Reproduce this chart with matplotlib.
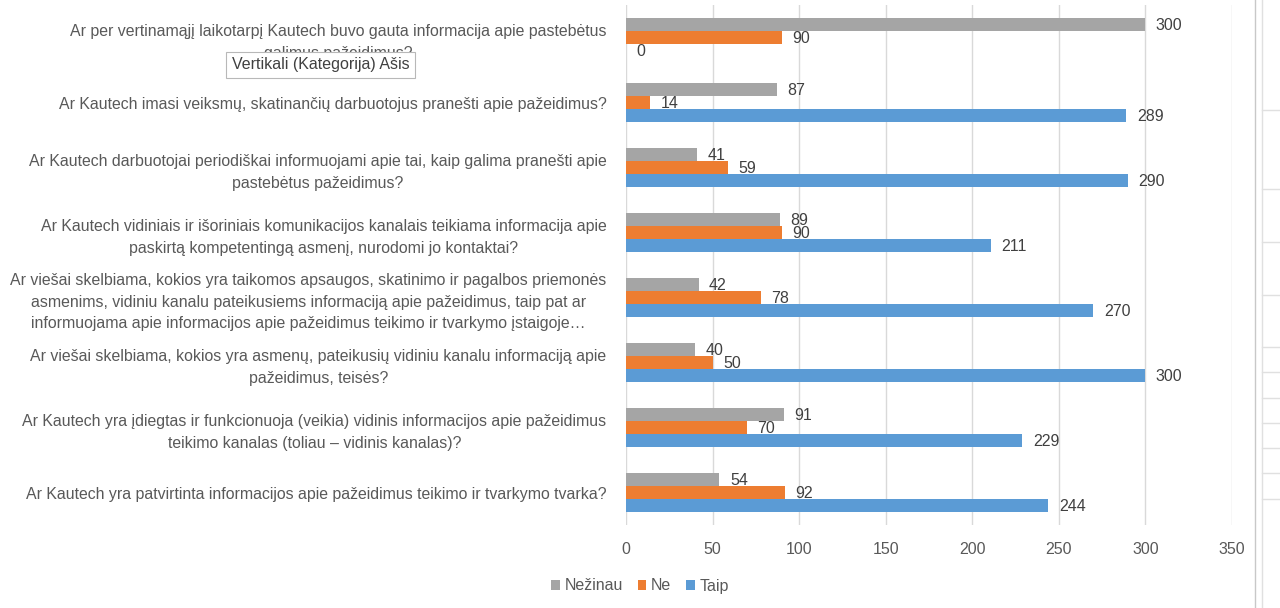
import matplotlib.pyplot as plt
from matplotlib.lines import Line2D
from matplotlib.patches import Patch
import numpy as np

plt.rcParams["font.family"] = ["Liberation Sans", "DejaVu Sans"]

CATEGORIES = [
    "Ar per vertinamąjį laikotarpį Kautech buvo gauta informacija apie pastebėtus\ngalimus pažeidimus?",
    "Ar Kautech imasi veiksmų, skatinančių darbuotojus pranešti apie pažeidimus?",
    "Ar Kautech darbuotojai periodiškai informuojami apie tai, kaip galima pranešti apie\npastebėtus pažeidimus?",
    "Ar Kautech vidiniais ir išoriniais komunikacijos kanalais teikiama informacija apie\npaskirtą kompetentingą asmenį, nurodomi jo kontaktai?",
    "Ar viešai skelbiama, kokios yra taikomos apsaugos, skatinimo ir pagalbos priemonės\nasmenims, vidiniu kanalu pateikusiems informaciją apie pažeidimus, taip pat ar\ninformuojama apie informacijos apie pažeidimus teikimo ir tvarkymo įstaigoje…",
    "Ar viešai skelbiama, kokios yra asmenų, pateikusių vidiniu kanalu informaciją apie\npažeidimus, teisės?",
    "Ar Kautech yra įdiegtas ir funkcionuoja (veikia) vidinis informacijos apie pažeidimus\nteikimo kanalas (toliau – vidinis kanalas)?",
    "Ar Kautech yra patvirtinta informacijos apie pažeidimus teikimo ir tvarkymo tvarka?",
]
NEZINAU = [300, 87, 41, 89, 42, 40, 91, 54]
NE = [90, 14, 59, 90, 78, 50, 70, 92]
TAIP = [0, 289, 290, 211, 270, 300, 229, 244]
X_TICKS = [0, 50, 100, 150, 200, 250, 300, 350]

SERIES = [("Nežinau", NEZINAU, "#A5A5A5"), ("Ne", NE, "#ED7D31"), ("Taip", TAIP, "#5B9BD5")]

LABEL_COLOR = "#595959"
VALUE_COLOR = "#404040"


def main():
    fig = plt.figure(figsize=(12.8, 6.08), dpi=100)
    ax = fig.add_axes([626 / 1280, 1 - 525 / 608, (1232 - 626) / 1280, 520 / 608])

    y = np.arange(len(CATEGORIES))
    h = 0.2
    for i, (name, vals, color) in enumerate(SERIES):
        pos = y + (i - 1) * h
        ax.barh(pos, vals, height=h, color=color, label=name, zorder=3)
        for p, v in zip(pos, vals):
            ax.text(v + 6, p + 0.02, f"{v}", va="center", ha="left", fontsize=11.5,
                    color=VALUE_COLOR, zorder=4)

    ax.set_ylim(len(CATEGORIES) - 0.5, -0.5)
    ax.set_xlim(0, 350)
    ax.set_xticks(X_TICKS)
    ax.set_xticklabels([str(t) for t in X_TICKS], fontsize=11.5, color=LABEL_COLOR)
    ax.set_yticks(y)
    ax.set_yticklabels(CATEGORIES, fontsize=11.4, color=LABEL_COLOR,
                       multialignment="center", linespacing=1.55)
    ax.tick_params(axis="both", length=0)
    ax.tick_params(axis="y", pad=14)
    ax.tick_params(axis="x", pad=12)
    ax.grid(axis="x", color="#D9D9D9", linewidth=1, zorder=0)
    for s in ax.spines.values():
        s.set_visible(False)

    handles = [Patch(facecolor=c, label=n) for n, _, c in SERIES]
    fig.legend(handles=handles, loc="center", bbox_to_anchor=(0.5, 1 - 586 / 608),
               ncol=3, frameon=False, fontsize=11.5, handlelength=0.55, handleheight=0.55,
               handletextpad=0.3, columnspacing=0.9, labelcolor=LABEL_COLOR)

    # Excel tooltip over the axis labels
    fig.text(232 / 1280, 1 - 65 / 608, "Vertikali (Kategorija) Ašis", fontsize=11.5,
             color="#404040", va="center", ha="left", zorder=10,
             bbox=dict(boxstyle="square,pad=0.35", facecolor="white",
                       edgecolor="#B8B8B8", linewidth=0.8))

    # chart border / sheet grid on the right
    fig.add_artist(Line2D([1255 / 1280] * 2, [0, 1], color="#C8C8C8", linewidth=1))
    fig.add_artist(Line2D([1262 / 1280] * 2, [0, 1], color="#E0E0E0", linewidth=1))
    for yy in [110, 189, 242, 295, 347, 372, 398, 423, 448, 473, 499]:
        fig.add_artist(Line2D([1262 / 1280, 1], [1 - yy / 608] * 2, color="#E0E0E0", linewidth=1))

    fig.savefig("out.png", dpi=100)
    plt.close(fig)


if __name__ == "__main__":
    main()
